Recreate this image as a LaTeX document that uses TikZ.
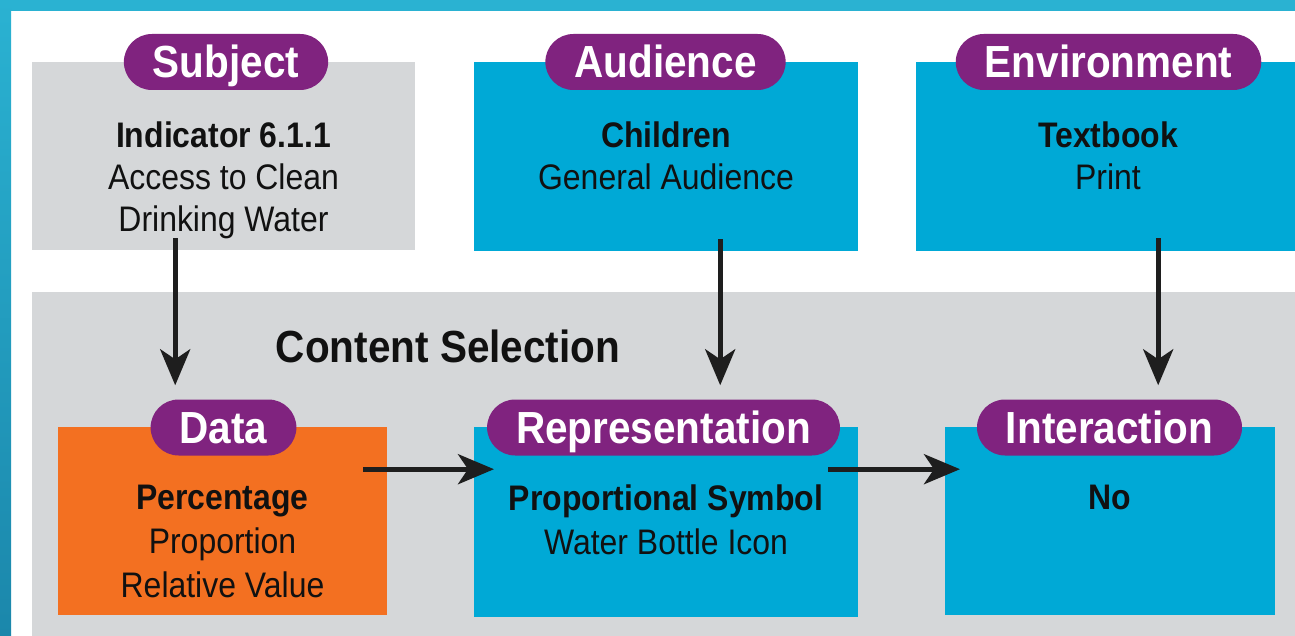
\documentclass[tikz,border=0pt]{standalone}
\usepackage{fontspec}
\setmainfont{Liberation Sans}[FakeStretch=0.9]
\usetikzlibrary{arrows.meta,calc}
\definecolor{cyanbox}{HTML}{00A9D6}
\definecolor{graybox}{HTML}{D5D7D9}
\definecolor{pillpurple}{HTML}{80237F}
\definecolor{orangebox}{HTML}{F37021}
\definecolor{bordertop}{HTML}{2AB2D2}
\definecolor{borderbot}{HTML}{1B87AB}
\definecolor{arrowcol}{HTML}{1E1E1E}
\definecolor{textcol}{HTML}{111111}
\begin{document}
\begin{tikzpicture}[x=1pt,y=-1pt,
  panel/.style={draw=none, inner sep=0pt, anchor=north west},
  pill/.style={fill=pillpurple, text=white, rounded corners=28pt, minimum height=56pt,
    inner xsep=29pt, inner ysep=0pt, text height=32pt, text depth=0pt,
    font=\fontsize{45}{45}\selectfont\bfseries},
  bodytop/.style={inner sep=0pt, align=center, anchor=north, text=textcol,
    font=\fontsize{35.5}{42}\selectfont},
  bodybot/.style={inner sep=0pt, align=center, anchor=north, text=textcol,
    font=\fontsize{35.5}{44}\selectfont},
  arr/.style={draw=arrowcol, line width=5pt, -{Stealth[length=36pt,width=30pt,inset=10pt]}}
]
\useasboundingbox (0,0) rectangle (1295,636);
\fill[white] (0,0) rectangle (1295,636);
% border
\fill[bordertop] (0,0) rectangle (1295,11);
\shade[top color=bordertop, bottom color=borderbot] (0,0) rectangle (11,636);
% big content panel
\node[panel, fill=graybox, minimum width=1263pt, minimum height=344pt] (content) at (32,292) {};
\node[anchor=base, inner sep=0pt, text=textcol, font=\fontsize{45}{45}\selectfont\bfseries] (contentlbl) at (448,362) {Content Selection};
% top panels
\node[panel, fill=graybox, minimum width=383pt, minimum height=188pt] (subjbox) at (32,62) {};
\node[panel, fill=cyanbox, minimum width=384pt, minimum height=189pt] (audbox) at (474,62) {};
\node[panel, fill=cyanbox, minimum width=379pt, minimum height=189pt] (envbox) at (916,62) {};
% bottom panels
\node[panel, fill=orangebox, minimum width=329pt, minimum height=188pt] (databox) at (58,427) {};
\node[panel, fill=cyanbox, minimum width=384pt, minimum height=190pt] (repbox) at (474,427) {};
\node[panel, fill=cyanbox, minimum width=330pt, minimum height=188pt] (intbox) at (945,427) {};
% pills
\node[pill] (subjpill) at (226,62) {Subject};
\node[pill] (audpill) at (665.5,62) {Audience};
\node[pill] (envpill) at (1108.5,62) {Environment};
\node[pill] (datapill) at (223.5,427.5) {Data};
\node[pill] (reppill) at (663.5,427.5) {Representation};
\node[pill] (intpill) at (1109.5,427.5) {Interaction};
% body texts
\node[bodytop] (subjtxt) at (223.5,121.5) {{\bfseries Indicator 6.1.1}\\Access to Clean\\Drinking Water};
\node[bodytop] (audtxt) at (666,121.5) {{\bfseries Children}\\General Audience};
\node[bodytop] (envtxt) at (1108,121.5) {{\bfseries Textbook}\\Print};
\node[bodybot] (datatxt) at (222.5,485) {{\bfseries Percentage}\\Proportion\\Relative Value};
\node[bodybot] (reptxt) at (666,485) {{\bfseries Proportional Symbol}\\Water Bottle Icon};
\node[bodybot] (inttxt) at (1110,485) {{\bfseries No}};
% vertical arrows
\coordinate (a1s) at ([xshift=-48.5pt,yshift=12pt]subjbox.south);
\coordinate (a1e) at ([yshift=14pt]a1s |- datapill.north);
\draw[arr] (a1s) -- (a1e);
\coordinate (a2s) at ([xshift=54pt,yshift=12pt]audbox.south);
\coordinate (a2e) at ([yshift=14pt]a2s |- reppill.north);
\draw[arr] (a2s) -- (a2e);
\coordinate (a3s) at ([xshift=52.5pt,yshift=13pt]envbox.south);
\coordinate (a3e) at ([yshift=14pt]a3s |- intpill.north);
\draw[arr] (a3s) -- (a3e);
% horizontal arrows
\coordinate (h1s) at ([xshift=-24pt,yshift=52pt]databox.east);
\coordinate (h1e) at ([xshift=20pt]h1s -| repbox.west);
\draw[arr] (h1s) -- (h1e);
\coordinate (h2s) at ([xshift=-30pt,yshift=53pt]repbox.east);
\coordinate (h2e) at ([xshift=15pt]h2s -| intbox.west);
\draw[arr] (h2s) -- (h2e);
\end{tikzpicture}
\end{document}
